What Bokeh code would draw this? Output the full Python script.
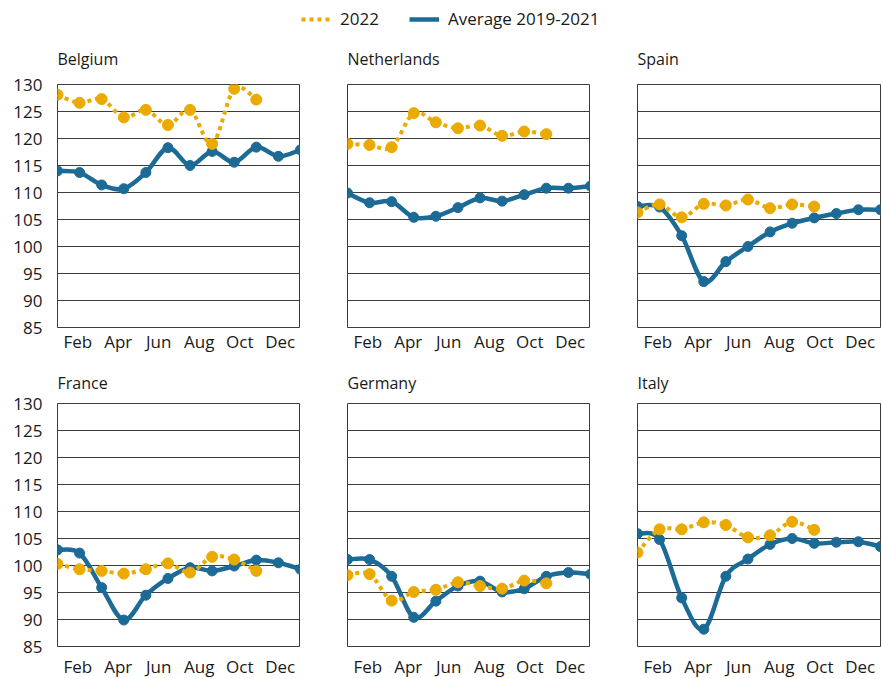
from bokeh.plotting import figure
from bokeh.models import Range1d, FixedTicker, SingleIntervalTicker, Legend, LegendItem, ColumnDataSource
from bokeh.layouts import column, row
from bokeh.embed import file_html
from bokeh.resources import INLINE

months = ["Jan", "Feb", "Mar", "Apr", "May", "Jun", "Jul", "Aug", "Sep", "Oct", "Nov", "Dec"]
tick_labels = ["Feb", "Apr", "Jun", "Aug", "Oct", "Dec"]
countries = ["Belgium", "Netherlands", "Spain", "France", "Germany", "Italy"]

belgium_2022 = [128.1, 126.6, 127.3, 123.9, 125.3, 122.5, 125.3, 119.0, 129.2, 127.2]
belgium_avg = [114.0, 113.7, 111.4, 110.7, 113.7, 118.3, 115.0, 117.6, 115.6, 118.4, 116.7, 117.9]
netherlands_2022 = [119.0, 118.8, 118.4, 124.7, 123.0, 121.9, 122.4, 120.5, 121.3, 120.8]
netherlands_avg = [109.9, 108.1, 108.3, 105.4, 105.6, 107.2, 109.0, 108.4, 109.6, 110.8, 110.8, 111.2]
spain_2022 = [106.3, 107.8, 105.4, 107.9, 107.6, 108.7, 107.1, 107.8, 107.4]
spain_avg = [107.4, 107.3, 102.0, 93.5, 97.2, 100.0, 102.7, 104.3, 105.3, 106.1, 106.8, 106.8]
france_2022 = [100.3, 99.3, 99.0, 98.5, 99.3, 100.4, 98.7, 101.6, 101.1, 99.0]
france_avg = [102.9, 102.3, 95.9, 89.9, 94.5, 97.6, 99.6, 99.0, 99.9, 101.0, 100.5, 99.3]
germany_2022 = [98.2, 98.4, 93.5, 95.1, 95.5, 96.9, 96.2, 95.7, 97.2, 96.7]
germany_avg = [101.1, 101.1, 98.0, 90.4, 93.4, 96.2, 97.1, 95.1, 95.7, 98.0, 98.7, 98.4]
italy_2022 = [102.4, 106.7, 106.7, 108.0, 107.5, 105.2, 105.6, 108.1, 106.6]
italy_avg = [105.9, 104.8, 94.0, 88.2, 98.0, 101.2, 103.9, 105.0, 104.1, 104.3, 104.4, 103.5]

series_2022 = [belgium_2022, netherlands_2022, spain_2022, france_2022, germany_2022, italy_2022]
series_avg = [belgium_avg, netherlands_avg, spain_avg, france_avg, germany_avg, italy_avg]

GOLD = "#EBAA00"
BLUE = "#1C6A96"
GRID = "#3c3c3c"
TXT = "#1a1a1a"
FONT = "Open Sans"

n_months = len(months)
span = n_months - 1
tick_pos = [span / len(tick_labels) * (k + 0.5) for k in range(len(tick_labels))]


def bezier_source(ys):
    xs = list(range(len(ys)))
    n = len(ys)
    d = dict(x0=[], y0=[], x1=[], y1=[], cx0=[], cy0=[], cx1=[], cy1=[])
    for i in range(n - 1):
        a = max(i - 1, 0)
        b = min(i + 2, n - 1)
        d["x0"].append(xs[i]); d["y0"].append(ys[i])
        d["x1"].append(xs[i + 1]); d["y1"].append(ys[i + 1])
        d["cx0"].append(xs[i] + (xs[i + 1] - xs[a]) / 6)
        d["cy0"].append(ys[i] + (ys[i + 1] - ys[a]) / 6)
        d["cx1"].append(xs[i + 1] - (xs[b] - xs[i]) / 6)
        d["cy1"].append(ys[i + 1] - (ys[b] - ys[i]) / 6)
    return ColumnDataSource(d)


def make_panel(idx):
    col = idx % 3
    top_row = idx < 3
    left = 57 if col == 0 else 47
    right = 1 if col == 2 else 0
    p = figure(frame_width=243, frame_height=243,
               min_border_left=left, min_border_right=right,
               min_border_top=36, min_border_bottom=33 if top_row else 31,
               x_range=Range1d(0, span), y_range=Range1d(85, 130),
               output_backend="svg", toolbar_location=None,
               title=countries[idx])
    p.title.text_font = FONT
    p.title.text_font_size = "16px"
    p.title.text_font_style = "normal"
    p.title.text_color = TXT
    p.title.align = "left"
    p.title.offset = 0
    p.title.standoff = 29 if top_row else 19
    p.outline_line_color = GRID
    p.outline_line_width = 1
    p.background_fill_color = "white"
    p.border_fill_color = "white"
    p.xgrid.visible = False
    p.ygrid.ticker = SingleIntervalTicker(interval=5)
    p.ygrid.grid_line_color = GRID
    p.ygrid.grid_line_width = 1

    p.xaxis.ticker = FixedTicker(ticks=tick_pos)
    p.xaxis.major_label_overrides = {t: lab for t, lab in zip(tick_pos, tick_labels)}
    p.yaxis.ticker = SingleIntervalTicker(interval=5)
    for ax in (p.xaxis, p.yaxis):
        ax.axis_line_color = None
        ax.major_tick_line_color = None
        ax.minor_tick_line_color = None
        ax.major_tick_out = 0
        ax.major_tick_in = 0
        ax.minor_tick_out = 0
        ax.major_label_text_font = FONT
        ax.major_label_text_font_size = "17px"
        ax.major_label_text_color = TXT
    p.xaxis.major_label_standoff = 2 if top_row else 8
    p.yaxis.major_label_standoff = 15
    if col != 0:
        p.yaxis.visible = False

    avg = series_avg[idx]
    cur = series_2022[idx]
    p.bezier("x0", "y0", "x1", "y1", "cx0", "cy0", "cx1", "cy1",
             source=bezier_source(avg), line_color=BLUE, line_width=4.5)
    p.scatter(list(range(len(avg))), avg, size=10, color=BLUE)
    p.bezier("x0", "y0", "x1", "y1", "cx0", "cy0", "cx1", "cy1",
             source=bezier_source(cur), line_color=GOLD, line_width=4, line_dash="4 4")
    p.scatter(list(range(len(cur))), cur, size=11, color=GOLD)
    return p


panels = [make_panel(i) for i in range(6)]

leg = figure(width=881, height=31, x_range=Range1d(0, 1), y_range=Range1d(0, 1),
             x_axis_location=None, y_axis_location=None, min_border=0,
             output_backend="svg", toolbar_location=None)
leg.outline_line_color = None
leg.grid.visible = False
r1 = leg.line([5, 6], [5, 6], line_color=GOLD, line_width=4, line_dash="4 4")
r2 = leg.line([5, 6], [5, 6], line_color=BLUE, line_width=4.5)
legend = Legend(items=[LegendItem(label="2022", renderers=[r1]),
                       LegendItem(label="Average 2019-2021", renderers=[r2])],
                orientation="horizontal", location=(301, 1),
                glyph_width=30, glyph_height=20, label_standoff=9, spacing=30,
                padding=0, margin=0, border_line_color=None,
                background_fill_alpha=0,
                label_text_font=FONT, label_text_font_size="17px", label_text_color=TXT)
leg.add_layout(legend, "center")

layout = column(leg, row(*panels[:3]), row(*panels[3:]))
open("out.html", "w").write(file_html(layout, INLINE))
